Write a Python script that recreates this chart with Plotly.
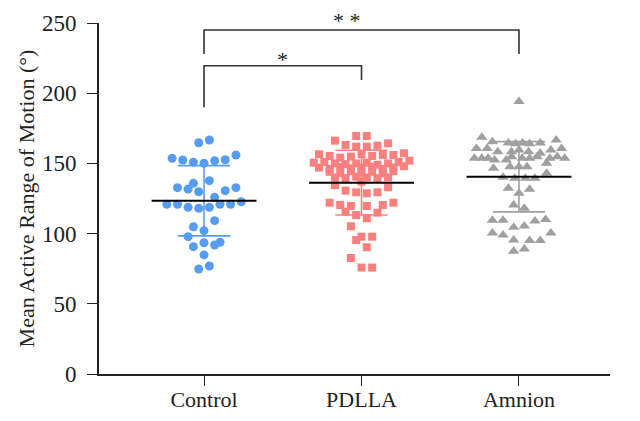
import plotly.graph_objects as go

# ---------------- data ----------------
categories = ["Control", "PDLLA", "Amnion"]

control_values = [164.7, 166.7,
                  153.6, 152.4, 150.8, 150.1, 151.9, 152.6, 156.0,
                  137.7, 135.8, 132.7, 131.8, 129.8, 130.6, 132.7, 125.9,
                  120.9, 120.9, 118.7, 118.0, 118.7, 120.9, 120.9, 122.7,
                  109.2, 104.9, 102.1, 97.8,
                  90.7, 93.5, 91.9, 93.8, 84.8, 74.8, 76.9]
control_col = [-0.5, 0.5,
               -3, -2, -1, 0, 1, 2, 3,
               0.5, -1, -2.5, -1.5, -0.5, 2, 3, 1,
               -3.5, -2.5, -1.5, -0.5, 0.5, 1.5, 2.5, 3.5,
               1, -1, 0, -1.5,
               -1, 0, 1, 1.5, 0, -0.5, 0.5]

pdlla_values = [169.5, 169.5, 166.2,
                163.1, 161.9, 161.9, 162.6, 164.3,
                156.5, 155.3, 154.1, 154.8, 156.5, 155.3, 156.0, 156.0, 157.2,
                150.5, 151.0, 150.0, 149.5, 150.0, 150.5, 149.0, 150.0, 151.0, 152.0,
                147.0, 146.0, 147.5, 146.5, 147.0, 147.5, 146.0, 147.0, 148.0,
                144.0, 143.0, 144.5, 143.5, 144.0, 143.0, 144.5,
                140.0, 139.5, 140.5, 140.0, 139.5, 140.0,
                134.6, 137.0,
                130.6, 129.4, 128.7, 129.4, 133.0,
                122.0, 120.4, 119.7, 119.7, 120.4, 122.0,
                115.6, 113.2, 110.9, 114.9,
                105.2, 95.4, 97.8, 97.8, 90.3, 82.6, 75.8, 75.8]
pdlla_col = [-0.5, 0.5, -2.5,
             -1.5, -0.5, 0.5, 1.5, 2.5,
             -4, -3, -2, -1, 0, 1, 2, 3, 4,
             -4.5, -3.5, -2.5, -1.5, -0.5, 0.5, 1.5, 2.5, 3.5, 4.5,
             -4, -3, -2, -1, 0, 1, 2, 3, 4,
             -3, -2, -1, 0, 1, 2, 3,
             -2.5, -1.5, -0.5, 0.5, 1.5, 2.5,
             -2.5, 0,
             -1.5, -0.5, 0.5, 1.5, 2.5,
             -3, -2, -1, 0.5, 2, 3,
             -1.5, -0.5, 0.5, 1.5,
             -1, -0.5, 0, 1, 0.5, -1, 0, 1]

amnion_values = [194.0, 168.6, 166.7, 165.5,
                 164.5, 164.0, 164.5, 164.0, 164.5,
                 160.7, 160.7, 159.5, 160.7,
                 158.3, 158.3, 159.5, 158.3, 157.2,
                 153.6, 153.6, 153.6, 152.4, 152.4, 154.8, 153.6, 153.6, 154.8, 153.6, 154.8, 153.6,
                 146.5, 147.6, 147.6, 147.6, 150.1,
                 140.1, 139.4, 139.4, 139.4, 142.9,
                 132.3, 131.6, 128.7, 120.4, 118.0,
                 109.5, 109.5, 109.0, 110.0,
                 104.5, 105.5,
                 100.5, 99.0, 100.5,
                 95.4, 95.0, 95.0,
                 87.5, 89.0]
amnion_col = [0, -3.5, 3.5, -2.5,
              -1, -0.33, 0.33, 1, 2,
              -4, -3, 3, 4,
              -2, -0.7, 0, 0.9, 2,
              -4.2, -3.5, -2.9, -2.3, -1.2, -0.7, 0.3, 1, 1.7, 2.9, 3.6, 4.3,
              -2.4, -0.85, 0, 0.75, 2.6,
              -1.5, -0.4, 0.6, 1.5, 2.6,
              -1, 1, 0, -0.5, 0.5,
              -2.5, -1.5, 1.5, 2.5,
              -0.5, 0.5,
              -2.5, -1.5, 3,
              -0.5, 1, 2,
              -0.5, 0.5]

group_means = [123.4, 136.3, 140.5]
group_sds = [25.0, 23.1, 25.0]

y_ticks = [0, 50, 100, 150, 200, 250]
y_max = 250

# ---------------- styling ----------------
colors = ["rgb(88,156,240)", "rgb(250,128,128)", "rgb(160,160,160)"]
symbols = ["circle", "square", "triangle-up"]
sizes = [9, 8, 10]
COL_STEP = 0.0675      # width of one swarm column, in category units
MEAN_HALF = 0.333
SD_HALF = 0.166
SERIF = "Liberation Serif, Times New Roman, serif"
INK = "#222222"

groups = [(control_values, control_col), (pdlla_values, pdlla_col), (amnion_values, amnion_col)]

fig = go.Figure()

for i, (vals, cols) in enumerate(groups):
    xs = [i + c * COL_STEP for c in cols]
    fig.add_trace(go.Scatter(
        x=xs, y=vals, mode="markers",
        marker=dict(symbol=symbols[i], size=sizes[i], color=colors[i], line=dict(width=0)),
        showlegend=False, hoverinfo="y", cliponaxis=False))

for i, (m, s) in enumerate(zip(group_means, group_sds)):
    # SD whiskers
    fig.add_trace(go.Scatter(
        x=[i - SD_HALF, i + SD_HALF, None, i - SD_HALF, i + SD_HALF, None, i, i],
        y=[m + s, m + s, None, m - s, m - s, None, m - s, m + s],
        mode="lines", line=dict(color=colors[i], width=1.6),
        showlegend=False, hoverinfo="skip"))
    # mean line
    fig.add_trace(go.Scatter(
        x=[i - MEAN_HALF, i + MEAN_HALF], y=[m, m],
        mode="lines", line=dict(color="black", width=2),
        showlegend=False, hoverinfo="skip"))

# significance brackets
bracket_color = "#333333"
fig.add_trace(go.Scatter(
    x=[0, 0, 2, 2], y=[228, 245, 245, 228], mode="lines",
    line=dict(color=bracket_color, width=1.6), showlegend=False, hoverinfo="skip"))
fig.add_trace(go.Scatter(
    x=[0, 0, 1, 1], y=[190, 219.6, 219.6, 209.4], mode="lines",
    line=dict(color=bracket_color, width=1.6), showlegend=False, hoverinfo="skip"))

fig.add_annotation(x=0.91, xref="x", y=251.5 / y_max, yref="paper", text="* *", showarrow=False,
                   font=dict(family=SERIF, size=22, color=INK), yanchor="middle")
fig.add_annotation(x=0.5, xref="x", y=224.0 / y_max, yref="paper", text="*", showarrow=False,
                   font=dict(family=SERIF, size=22, color=INK), yanchor="middle")

# crop of the bottom strip, as in the reference image
fig.add_shape(type="rect", xref="paper", yref="paper",
              x0=-0.3, x1=1.1, y0=-0.3, y1=-0.0969,
              fillcolor="white", line=dict(width=0), layer="above")

# the page adds an 8 px body margin, so the figure is 8 px smaller than the window
fig.update_layout(
    width=632, height=413,
    margin=dict(l=91, r=30, t=15, b=47),
    paper_bgcolor="white", plot_bgcolor="white",
    font=dict(family=SERIF, size=20, color=INK),
    showlegend=False,
    xaxis=dict(range=[-0.667, 2.578], tickvals=[0, 1, 2], ticktext=categories,
               showline=True, linecolor=INK, linewidth=1.6,
               ticks="outside", ticklen=10, tickwidth=1.4, tickcolor=INK,
               showgrid=False, zeroline=False, automargin=False,
               tickfont=dict(family=SERIF, size=22, color=INK), ticklabelstandoff=-5),
    yaxis=dict(range=[0, y_max], tickvals=y_ticks,
               showline=True, linecolor=INK, linewidth=1.6,
               ticks="outside", ticklen=10, tickwidth=1.4, tickcolor=INK,
               showgrid=False, zeroline=False, automargin=False,
               tickfont=dict(family=SERIF, size=23, color=INK), ticklabelstandoff=6,
               title=dict(text="Mean Active Range of Motion (°)",
                          font=dict(family=SERIF, size=22, color=INK), standoff=1)),
)

fig.write_html("out.html")
